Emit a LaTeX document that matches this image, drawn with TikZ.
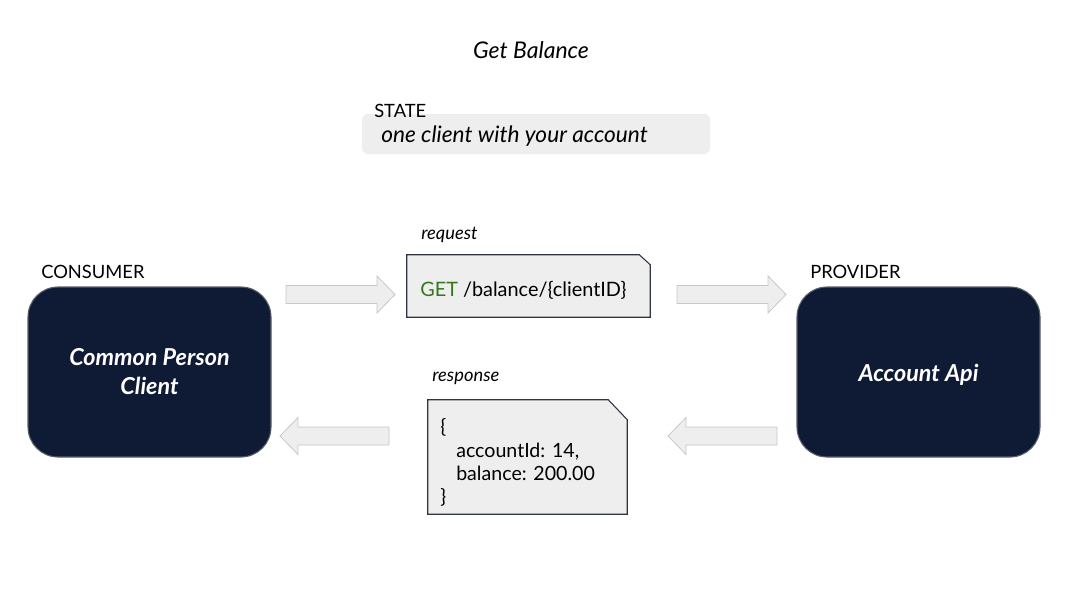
\documentclass[tikz,border=0pt]{standalone}
\usepackage{fontspec}
\setmainfont{Lato}
\newdimen\px \px=0.75pt
\definecolor{navy}{HTML}{0F1B35}
\definecolor{navyborder}{HTML}{5A5F6B}
\definecolor{lightfill}{HTML}{EEEEEE}
\definecolor{arrowborder}{HTML}{C8C8C8}
\definecolor{docborder}{HTML}{2E3440}
\definecolor{getgreen}{HTML}{38761D}
\tikzset{
  lbl/.style={inner sep=0pt, anchor=base west, font=\fontsize{13.75}{16}\selectfont},
  smalllbl/.style={inner sep=0pt, anchor=base west, font=\fontsize{13.75}{16}\selectfont\itshape},
  bigbox/.style={draw=navyborder, line width=0.8pt, fill=navy, rounded corners=30\px,
    minimum width=243\px, minimum height=170\px, text=white, align=center,
    font=\fontsize{17.5}{21.75}\selectfont\bfseries\itshape},
  docline/.style={draw=docborder, fill=lightfill, line width=0.8pt},
  arrowshape/.style={draw=arrowborder, fill=lightfill, line width=0.6pt},
  blockarrow/.pic={\path[arrowshape] (0,-9) -- (91,-9) -- (91,-18.5) -- (109,0) -- (91,18.5) -- (91,9) -- (0,9) -- cycle;},
}
\begin{document}
\begin{tikzpicture}[x=0.75pt,y=-0.75pt]
\useasboundingbox[fill=white] (0,0) rectangle (1072,611);

% title
\node[inner sep=0pt, font=\fontsize{17.25}{20}\selectfont\itshape] (title) at (531,50) {Get Balance};

% state
\node[fill=lightfill, rounded corners=6\px, minimum width=348\px, minimum height=40\px, inner sep=0pt] (state) at (536,134) {};
\node[lbl] (statelbl) at (374,117) {STATE};
\node[inner sep=0pt, anchor=west, font=\fontsize{17}{20}\selectfont\itshape] (statetext) at (381,136) {one client with your account};

% consumer / provider
\node[lbl] (conslbl) at (41,278) {CONSUMER};
\node[bigbox] (consumer) at (149.5,372) {Common Person\\Client};
\node[lbl] (provlbl) at (810,278) {PROVIDER};
\node[bigbox, text height=17pt, text depth=3.5pt] (provider) at (918.5,372) {Account Api};

% request document
\node[smalllbl] (reqlbl) at (421,239) {request};
\node[inner sep=0pt, minimum width=243\px, minimum height=62\px] (req) at (528.5,286) {};
\path[docline] (req.north west) -- ([xshift=-11\px]req.north east) -- ([yshift=-10\px]req.north east) -- (req.south east) -- (req.south west) -- cycle;
\node[inner sep=0pt, anchor=west, font=\fontsize{14.9}{17}\selectfont] (reqtext) at (420,290.5) {\textcolor{getgreen}{GET} /balance/\{clientID\}};

% response document
\node[smalllbl] (reslbl) at (432,381) {response};
\node[inner sep=0pt, minimum width=199\px, minimum height=114\px] (res) at (527.5,457) {};
\path[docline] (res.north west) -- ([xshift=-19\px]res.north east) -- ([yshift=-20\px]res.north east) -- (res.south east) -- (res.south west) -- cycle;
\node[inner sep=0pt, anchor=north west, align=left, font=\fontsize{14.7}{17.5}\selectfont] (restext) at (440,418.5)
  {\{\\\hspace*{12pt}accountId: 14,\\\hspace*{12pt}balance: 200.00\\\}};

% block arrows
\coordinate (a1) at (286,294.5);
\coordinate (a2) at (677,294.5);
\coordinate (a3) at (389,436);
\coordinate (a4) at (777,436);
\pic at (a1) {blockarrow};
\pic at (a2) {blockarrow};
\pic[xscale=-1] at (a3) {blockarrow};
\pic[xscale=-1] at (a4) {blockarrow};
\end{tikzpicture}
\end{document}
